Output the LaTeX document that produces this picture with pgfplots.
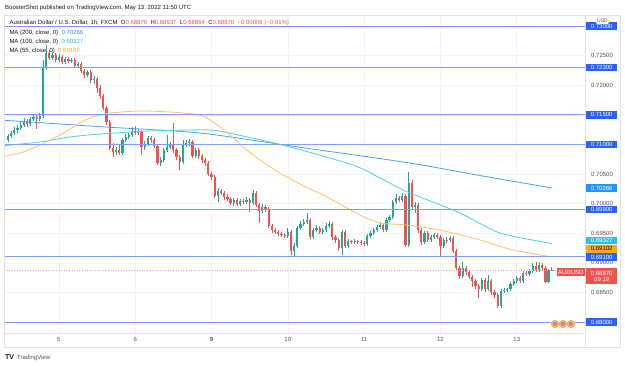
\documentclass[border=0pt]{standalone}
\usepackage{pgfplots}
\usepackage{pgfplotstable}
\pgfplotsset{compat=1.18}
\usepackage{fontspec}
\setmainfont{Liberation Sans}

\definecolor{up}{HTML}{26A69A}
\definecolor{down}{HTML}{EF5350}
\definecolor{ma200}{HTML}{42A5F5}
\definecolor{ma100}{HTML}{4DD0E1}
\definecolor{ma55}{HTML}{FFC069}
\definecolor{ma200t}{HTML}{2196F3}
\definecolor{ma100t}{HTML}{26C6DA}
\definecolor{ma55t}{HTML}{F9A825}
\definecolor{level}{HTML}{2962FF}
\definecolor{lvl}{HTML}{7F9CFF}
\definecolor{txt}{HTML}{131722}
\definecolor{axtxt}{HTML}{50535E}
\definecolor{frame}{HTML}{E0E3EB}
\definecolor{gridc}{HTML}{F2F3F7}

\newcommand\sz{\fontsize{6}{7}\selectfont}

% AUD/USD hourly candles: hour index, open, high, low, close
\pgfplotstableread{
i o h l c
0 0.7108 0.7118 0.7104 0.7114
1 0.7114 0.7123 0.7111 0.7119
2 0.7119 0.7129 0.7116 0.7125
3 0.7125 0.7133 0.7119 0.7128
4 0.7128 0.7138 0.7125 0.7133
5 0.7133 0.7145 0.7129 0.7140
6 0.7140 0.7143 0.7129 0.7135
7 0.7135 0.7146 0.7131 0.7143
8 0.7143 0.7150 0.7140 0.7146
9 0.7146 0.7151 0.7126 0.7143
10 0.7143 0.7153 0.7140 0.7148
11 0.7148 0.7243 0.7145 0.7229
12 0.7229 0.7268 0.7226 0.7255
13 0.7255 0.7260 0.7243 0.7246
14 0.7246 0.7256 0.7243 0.7251
15 0.7251 0.7255 0.7239 0.7243
16 0.7243 0.7253 0.7239 0.7248
17 0.7248 0.7251 0.7236 0.7239
18 0.7239 0.7248 0.7236 0.7244
19 0.7244 0.7248 0.7238 0.7241
20 0.7241 0.7246 0.7238 0.7243
21 0.7243 0.7246 0.7229 0.7233
22 0.7233 0.7239 0.7231 0.7236
23 0.7236 0.7239 0.7221 0.7224
24 0.7224 0.7228 0.7212 0.7217
25 0.7217 0.7226 0.7214 0.7223
26 0.7223 0.7226 0.7204 0.7209
27 0.7209 0.7216 0.7202 0.7211
28 0.7211 0.7214 0.7187 0.7195
29 0.7195 0.7200 0.7177 0.7182
30 0.7182 0.7185 0.7158 0.7162
31 0.7162 0.7165 0.7133 0.7138
32 0.7138 0.7141 0.7091 0.7094
33 0.7094 0.7103 0.7079 0.7087
34 0.7087 0.7096 0.7082 0.7091
35 0.7091 0.7099 0.7082 0.7086
36 0.7086 0.7111 0.7082 0.7108
37 0.7108 0.7118 0.7104 0.7113
38 0.7113 0.7119 0.7109 0.7116
39 0.7116 0.7129 0.7113 0.7123
40 0.7123 0.7131 0.7116 0.7119
41 0.7119 0.7126 0.7116 0.7121
42 0.7121 0.7125 0.7082 0.7096
43 0.7096 0.7106 0.7091 0.7101
44 0.7101 0.7114 0.7097 0.7111
45 0.7111 0.7114 0.7103 0.7108
46 0.7108 0.7111 0.7094 0.7097
47 0.7097 0.7101 0.7065 0.7069
48 0.7069 0.7079 0.7064 0.7074
49 0.7074 0.7094 0.7070 0.7091
50 0.7091 0.7116 0.7087 0.7096
51 0.7096 0.7104 0.7092 0.7099
52 0.7099 0.7136 0.7086 0.7091
53 0.7091 0.7094 0.7074 0.7079
54 0.7079 0.7082 0.7057 0.7070
55 0.7070 0.7108 0.7067 0.7099
56 0.7099 0.7108 0.7096 0.7103
57 0.7103 0.7109 0.7097 0.7104
58 0.7104 0.7108 0.7077 0.7081
59 0.7081 0.7094 0.7077 0.7091
60 0.7091 0.7094 0.7075 0.7081
61 0.7081 0.7084 0.7069 0.7074
62 0.7074 0.7077 0.7064 0.7069
63 0.7069 0.7072 0.7047 0.7050
64 0.7050 0.7054 0.7040 0.7045
65 0.7045 0.7048 0.7010 0.7013
66 0.7013 0.7026 0.7003 0.7021
67 0.7021 0.7025 0.7015 0.7018
68 0.7018 0.7021 0.7006 0.7011
69 0.7011 0.7016 0.7005 0.7008
70 0.7008 0.7011 0.6998 0.7001
71 0.7001 0.7010 0.6996 0.7006
72 0.7006 0.7010 0.6996 0.6999
73 0.6999 0.7008 0.6996 0.7005
74 0.7005 0.7008 0.6999 0.7003
75 0.7003 0.7011 0.6999 0.7006
76 0.7006 0.7010 0.6986 0.7001
77 0.7001 0.7023 0.6998 0.7018
78 0.7018 0.7021 0.6994 0.6998
79 0.6998 0.7001 0.6967 0.6988
80 0.6988 0.6999 0.6984 0.6994
81 0.6994 0.6998 0.6986 0.6991
82 0.6991 0.6994 0.6959 0.6962
83 0.6962 0.6966 0.6950 0.6956
84 0.6956 0.6959 0.6949 0.6952
85 0.6952 0.6956 0.6945 0.6949
86 0.6949 0.6952 0.6944 0.6947
87 0.6947 0.6950 0.6942 0.6945
88 0.6945 0.6959 0.6942 0.6952
89 0.6952 0.6956 0.6913 0.6920
90 0.6920 0.6934 0.6910 0.6929
91 0.6929 0.6962 0.6925 0.6959
92 0.6959 0.6971 0.6956 0.6966
93 0.6966 0.6974 0.6962 0.6969
94 0.6969 0.6984 0.6966 0.6972
95 0.6972 0.6976 0.6940 0.6944
96 0.6944 0.6959 0.6940 0.6956
97 0.6956 0.6964 0.6952 0.6959
98 0.6959 0.6962 0.6949 0.6952
99 0.6952 0.6959 0.6949 0.6956
100 0.6956 0.6967 0.6952 0.6962
101 0.6962 0.6971 0.6959 0.6966
102 0.6966 0.6969 0.6939 0.6944
103 0.6944 0.6947 0.6934 0.6939
104 0.6939 0.6942 0.6920 0.6925
105 0.6925 0.6956 0.6913 0.6952
106 0.6952 0.6956 0.6925 0.6929
107 0.6929 0.6940 0.6925 0.6937
108 0.6937 0.6939 0.6932 0.6935
109 0.6935 0.6940 0.6932 0.6937
110 0.6937 0.6939 0.6932 0.6935
111 0.6935 0.6939 0.6930 0.6934
112 0.6934 0.6937 0.6929 0.6932
113 0.6932 0.6949 0.6929 0.6945
114 0.6945 0.6954 0.6942 0.6950
115 0.6950 0.6959 0.6947 0.6956
116 0.6956 0.6964 0.6952 0.6961
117 0.6961 0.6969 0.6957 0.6964
118 0.6964 0.6967 0.6952 0.6956
119 0.6956 0.6976 0.6952 0.6972
120 0.6972 0.6981 0.6969 0.6978
121 0.6978 0.7006 0.6974 0.7003
122 0.7003 0.7016 0.6999 0.7010
123 0.7010 0.7013 0.7003 0.7006
124 0.7006 0.7018 0.7003 0.7013
125 0.7013 0.7016 0.6927 0.6930
126 0.6930 0.7054 0.6927 0.7035
127 0.7035 0.7040 0.6989 0.6994
128 0.6994 0.7003 0.6984 0.6998
129 0.6998 0.7001 0.6950 0.6956
130 0.6956 0.6959 0.6930 0.6935
131 0.6935 0.6954 0.6932 0.6950
132 0.6950 0.6954 0.6935 0.6939
133 0.6939 0.6947 0.6935 0.6944
134 0.6944 0.6950 0.6940 0.6947
135 0.6947 0.6950 0.6940 0.6944
136 0.6944 0.6947 0.6910 0.6929
137 0.6929 0.6942 0.6925 0.6939
138 0.6939 0.6944 0.6934 0.6938
139 0.6938 0.6945 0.6935 0.6942
140 0.6942 0.6945 0.6917 0.6920
141 0.6920 0.6923 0.6888 0.6891
142 0.6891 0.6895 0.6873 0.6878
143 0.6878 0.6902 0.6874 0.6891
144 0.6891 0.6895 0.6880 0.6885
145 0.6885 0.6888 0.6873 0.6876
146 0.6876 0.6880 0.6859 0.6869
147 0.6869 0.6873 0.6856 0.6861
148 0.6861 0.6864 0.6841 0.6856
149 0.6856 0.6874 0.6852 0.6871
150 0.6871 0.6874 0.6851 0.6856
151 0.6856 0.6880 0.6852 0.6869
152 0.6869 0.6873 0.6846 0.6851
153 0.6851 0.6854 0.6841 0.6846
154 0.6846 0.6849 0.6824 0.6827
155 0.6827 0.6856 0.6824 0.6852
156 0.6852 0.6858 0.6849 0.6854
157 0.6854 0.6858 0.6851 0.6856
158 0.6856 0.6868 0.6852 0.6864
159 0.6864 0.6873 0.6861 0.6869
160 0.6869 0.6878 0.6866 0.6874
161 0.6874 0.6878 0.6866 0.6869
162 0.6869 0.6886 0.6866 0.6883
163 0.6883 0.6886 0.6878 0.6881
164 0.6881 0.6890 0.6878 0.6886
165 0.6886 0.6900 0.6883 0.6895
166 0.6895 0.6902 0.6885 0.6888
167 0.6888 0.6902 0.6885 0.6896
168 0.6896 0.6900 0.6888 0.6891
169 0.6891 0.6895 0.6866 0.6868
170 0.6868 0.6890 0.6866 0.68876
171 0.68876 0.68937 0.68864 0.68870
}\candles

\begin{document}
\begin{tikzpicture}
\useasboundingbox (0,0) rectangle (625pt,366pt);
\begin{axis}[
  at={(4pt,33pt)}, anchor=south west,
  scale only axis, width=581pt, height=318pt,
  xmin=-1.258, xmax=181.45, ymin=0.678159, ymax=0.731875,
  axis line style={draw=frame, line width=0.6pt},
  major tick length=0pt,
  grid=major, major grid style={draw=gridc, line width=0.6pt},
  xtick={16,40,64,88,112,136,160},
  xticklabels={5,6,\textbf{9},10,11,12,13},
  xticklabel style={font=\sz, color=axtxt, inner sep=0pt, yshift=-4.5pt},
  ytick={0.680,0.685,0.690,0.695,0.700,0.705,0.710,0.715,0.720,0.725,0.730},
  yticklabel pos=right,
  yticklabel style={font=\sz, color=axtxt, anchor=west, inner sep=0pt, xshift=6pt,
    /pgf/number format/.cd, fixed, fixed zerofill, precision=5, assume math mode=true},
  scaled y ticks=false,
  candle/.style={draw=none, mark=none, forget plot,
    error bars/.cd, y dir=plus, y explicit, error mark=none},
  rising/.style={restrict expr to domain={\thisrow{c}-\thisrow{o}}{0:1}},
  falling/.style={restrict expr to domain={\thisrow{c}-\thisrow{o}}{-1:-0.0000001}},
]
% wicks
\addplot[rising, candle, error bar style={draw=up, line width=0.7pt}]
  table[x=i, y=l, y error plus expr={\thisrow{h}-\thisrow{l}}] {\candles};
\addplot[falling, candle, error bar style={draw=down, line width=0.7pt}]
  table[x=i, y=l, y error plus expr={\thisrow{h}-\thisrow{l}}] {\candles};
% bodies
\addplot[rising, candle, error bar style={draw=up, line width=2.2pt}]
  table[x=i, y=o, y error plus expr={max(\thisrow{c}-\thisrow{o},0.00008)}] {\candles};
\addplot[falling, candle, error bar style={draw=down, line width=2.2pt}]
  table[x=i, y=c, y error plus expr={\thisrow{o}-\thisrow{c}}] {\candles};
% moving averages
\addplot[ma200, line width=0.8pt, smooth, tension=0.4] coordinates {
 (-2.5,0.71414) (28.9,0.71301) (60.4,0.71194) (91.8,0.70953) (126.4,0.70687)
 (148.4,0.70476) (171,0.70266)};
\addplot[ma100, line width=0.8pt, smooth, tension=0.4] coordinates {
 (-2.5,0.70975) (10.1,0.71042) (19.5,0.71127) (28.9,0.71177) (44.7,0.71228)
 (63.5,0.71245) (73.9,0.71143) (88.7,0.70958) (108.5,0.70654) (117.0,0.70434)
 (124.2,0.70231) (129.6,0.70113) (142.1,0.69843) (154.7,0.69505) (171,0.69327)};
\addplot[ma55, line width=0.8pt, smooth, tension=0.4] coordinates {
 (-2.5,0.70789) (3.8,0.70856) (10.1,0.70992) (16.4,0.71161) (22.6,0.71363)
 (26.7,0.71465) (32.1,0.71532) (41.5,0.71566) (50.9,0.71549) (60.4,0.71498)
 (64.5,0.71380) (69.8,0.71161) (73.9,0.70958) (79.2,0.70739) (85.5,0.70519)
 (91.8,0.70333) (100.3,0.70113) (110.7,0.69809) (117.0,0.69674) (125.5,0.69640)
 (135.8,0.69556) (148.4,0.69387) (158.8,0.69218) (171,0.69102)};
% current price
\addplot[down!55, dotted, line width=0.6pt] coordinates {(-1.258,0.6887) (181.45,0.6887)};
% horizontal levels
\addplot[lvl, line width=1pt, forget plot] coordinates {(-1.258,0.730) (181.45,0.730)};
\addplot[lvl, line width=1pt, forget plot] coordinates {(-1.258,0.723) (181.45,0.723)};
\addplot[lvl, line width=1pt, forget plot] coordinates {(-1.258,0.715) (181.45,0.715)};
\addplot[lvl, line width=1pt, forget plot] coordinates {(-1.258,0.710) (181.45,0.710)};
\addplot[lvl, line width=1pt, forget plot] coordinates {(-1.258,0.699) (181.45,0.699)};
\addplot[lvl, line width=1pt, forget plot] coordinates {(-1.258,0.691) (181.45,0.691)};
\addplot[lvl, line width=1pt, forget plot] coordinates {(-1.258,0.680) (181.45,0.680)};
\coordinate (p730) at (axis cs:181.45,0.730);
\coordinate (p723) at (axis cs:181.45,0.723);
\coordinate (p715) at (axis cs:181.45,0.715);
\coordinate (p710) at (axis cs:181.45,0.710);
\coordinate (p699) at (axis cs:181.45,0.699);
\coordinate (p691) at (axis cs:181.45,0.691);
\coordinate (p680) at (axis cs:181.45,0.680);
\coordinate (pma200) at (axis cs:181.45,0.70266);
\coordinate (pma100) at (axis cs:181.45,0.69327);
\coordinate (pma55) at (axis cs:181.45,0.69102);
\coordinate (pcur) at (axis cs:181.45,0.68870);
\end{axis}

% price scale labels
\tikzset{pbox/.style={anchor=west, inner sep=0pt, minimum width=31pt, minimum height=7.5pt, font=\sz}}
\node[pbox, fill=level, text=white] at ([xshift=1pt]p730) {0.73000};
\node[pbox, fill=level, text=white] at ([xshift=1pt]p723) {0.72300};
\node[pbox, fill=level, text=white] at ([xshift=1pt]p715) {0.71500};
\node[pbox, fill=level, text=white] at ([xshift=1pt]p710) {0.71000};
\node[pbox, fill=ma200t, text=white] at ([xshift=1pt]pma200) {0.70266};
\node[pbox, fill=level, text=white] at ([xshift=1pt]p699) {0.69900};
\node[pbox, fill=ma100t, text=white] at ([xshift=1pt,yshift=3pt]pma100) {0.69327};
\node[pbox, fill=ma55t, text=txt] at ([xshift=1pt,yshift=8pt]pma55) {0.69102};
\node[pbox, fill=level, text=white] at ([xshift=1pt]p691) {0.69100};
\node[pbox, fill=level, text=white] at ([xshift=1pt]p680) {0.68000};
\node[anchor=north west, fill=down, text=white, inner sep=0pt, minimum width=31pt,
  minimum height=16pt, font=\sz, align=center] at ([xshift=1pt,yshift=2.6pt]pcur)
  {0.68870\\[-0.5pt]09:19};
\node[anchor=north east, fill=down, text=white, inner sep=0pt, minimum width=28pt,
  minimum height=8pt, font=\sz] at ([xshift=0pt,yshift=2.6pt]pcur) {AUDUSD};

\begin{scope}[x=1pt, y=-1pt, shift={(0pt,366pt)}]
  % panel frame
  \draw[frame, line width=0.6pt] (4,15) rectangle (620,347);
  \draw[frame, line width=0.6pt] (585,333) -- (585,347);
  % currency tag
  \node[fill=white, rounded corners=1pt, inner sep=1pt, font=\fontsize{5}{5}\selectfont,
    text=axtxt] at (602.5,21) {USD};
  % event markers
  \foreach \cx in {555,563,571}{
    \fill[white] (\cx,324) circle[radius=4pt];
    \fill[down!75] (\cx,324) circle[radius=2.8pt];
    \fill[level!70] (\cx-2.4,322.4) rectangle (\cx,324);
    \draw[ma55t, line width=0.8pt] (\cx,324) circle[radius=3.6pt];
  }
  % header
  \node[anchor=base west, inner sep=0pt, font=\sz, text=txt] at (5,9.6)
    {BoosterShot published on TradingView.com, May 13, 2022 11:50 UTC};
  \node[anchor=base west, inner sep=0pt, font=\sz, text=txt] at (9.3,25)
    {Australian Dollar / U.S. Dollar, 1h, FXCM\ \ O\textcolor{down}{0.68876}\ \ H\textcolor{down}{0.68937}\ \ L\textcolor{down}{0.68864}\ \ C\textcolor{down}{0.68870}\ \ \textcolor{down}{−0.00006 (−0.01\%)}};
  \node[anchor=base west, inner sep=0pt, font=\sz, text=txt] at (9.3,34.2)
    {MA (200, close, 0)\ \ \textcolor{ma200t}{0.70266}};
  \node[anchor=base west, inner sep=0pt, font=\sz, text=txt] at (9.3,43.4)
    {MA (100, close, 0)\ \ \textcolor{ma100t}{0.69327}};
  \node[anchor=base west, inner sep=0pt, font=\sz, text=txt] at (9.3,52.2)
    {MA (55, close, 0)\ \ \textcolor{ma55t}{0.69102}};
  % footer
  \node[anchor=base west, inner sep=0pt, font=\fontsize{7}{7}\selectfont\bfseries, text=txt] at (5,359.5) {TV};
  \node[anchor=base west, inner sep=0pt, font=\sz, text=axtxt] at (17,359.5) {TradingView};
\end{scope}
\end{tikzpicture}
\end{document}
